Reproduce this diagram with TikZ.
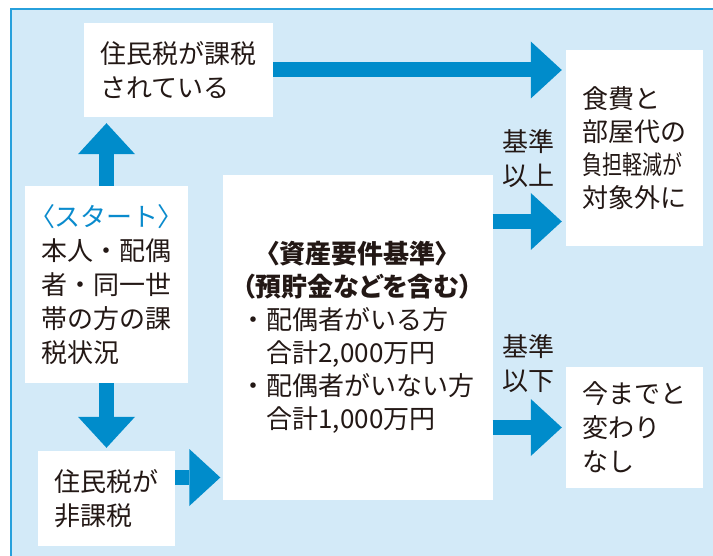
\documentclass[tikz,border=0pt]{standalone}
\usepackage{fontspec}
\setmainfont{Noto Sans CJK JP}
\usepackage{graphicx}
\usetikzlibrary{positioning}
\usetikzlibrary{arrows.meta}
\definecolor{bgblue}{HTML}{D3EAF8}
\definecolor{frameblue}{HTML}{27A0DC}
\definecolor{arrowblue}{HTML}{008CCB}
\definecolor{startblue}{HTML}{0A8BCD}
\definecolor{ink}{HTML}{231815}
\newcommand{\narrow}[1]{{\addfontfeatures{RawFeature=+palt}#1}}
\tikzstyle{box}=[fill=white,inner sep=0pt,align=left,text=ink,font=\fontsize{26}{34}\selectfont]
\tikzstyle{bigarrow}=[draw=arrowblue,line width=15pt,-{Triangle[width=57pt,length=31pt,line width=0pt]}]
\tikzstyle{note}=[text=ink,align=left,inner sep=0pt,font=\fontsize{26}{34}\selectfont]

\begin{document}
\begin{tikzpicture}[x=1pt,y=-1pt]
    \useasboundingbox (0,0) rectangle (713,556);
    % background panel
    \path[draw=frameblue,line width=2pt,fill=bgblue] (11,9.5) rectangle (740,580);

    % First we draw the boxes
    \node[box,minimum width=189pt,minimum height=94pt] (taxed) at (178.5,70) {住民税が課税\\されている};
    \node[box,minimum width=163pt,minimum height=197pt] (start) at (106.5,284.5)
        {{\color{startblue}\narrow{〈}スタート\narrow{〉}}\\本人・配偶\\者・同一世\\帯の方の課\\税状況};
    \node[box,minimum width=137pt,minimum height=95pt] (untaxed) at (106.5,498.5) {住民税が\\非課税};
    \node[box,minimum width=270pt,minimum height=325pt,align=center,font=\fontsize{26}{33}\selectfont] (asset) at (357.5,337.5)
        {{\bfseries\narrow{〈資産要件基準〉}}\\
         {\bfseries\narrow{（預貯金などを含む）}}\\
         \makebox[234pt][l]{・配偶者がいる方}\\
         \makebox[234pt][l]{　合計2,000万円}\\
         \makebox[234pt][l]{・配偶者がいない方}\\
         \makebox[234pt][l]{　合計1,000万円}};
    \node[box,minimum width=137pt,minimum height=196pt,font=\fontsize{26}{33}\selectfont] (excluded) at (634.5,148)
        {食費と\\部屋代の\\\scalebox{0.77}[1]{負担軽減が}\\対象外に};
    \node[box,minimum width=137pt,minimum height=121pt] (same) at (634.5,427.5) {今までと\\変わり\\なし};

    % Connect boxes with arrows
    \coordinate (ntx) at ([yshift=21pt]untaxed.east);
    \coordinate (hi) at ([yshift=116pt]asset.east);
    \path[bigarrow,shorten >=6pt] (start.north) -- (start.north |- taxed.south);
    \path[bigarrow,shorten >=3pt] (start.south) -- (untaxed.north);
    \path[bigarrow,shorten >=4pt] (taxed.east) -- (taxed.east -| excluded.west);
    \path[bigarrow,shorten >=2pt] (ntx) -- (ntx -| asset.west);
    \path[bigarrow,shorten >=4pt] (hi) -- (hi -| excluded.west);
    \path[bigarrow,shorten >=4pt] (asset.east |- same.west) -- (same.west);

    \node[note] (above) at (528,159) {基準\\以上};
    \node[note] (below) at (528,364) {基準\\以下};
\end{tikzpicture}
\end{document}
